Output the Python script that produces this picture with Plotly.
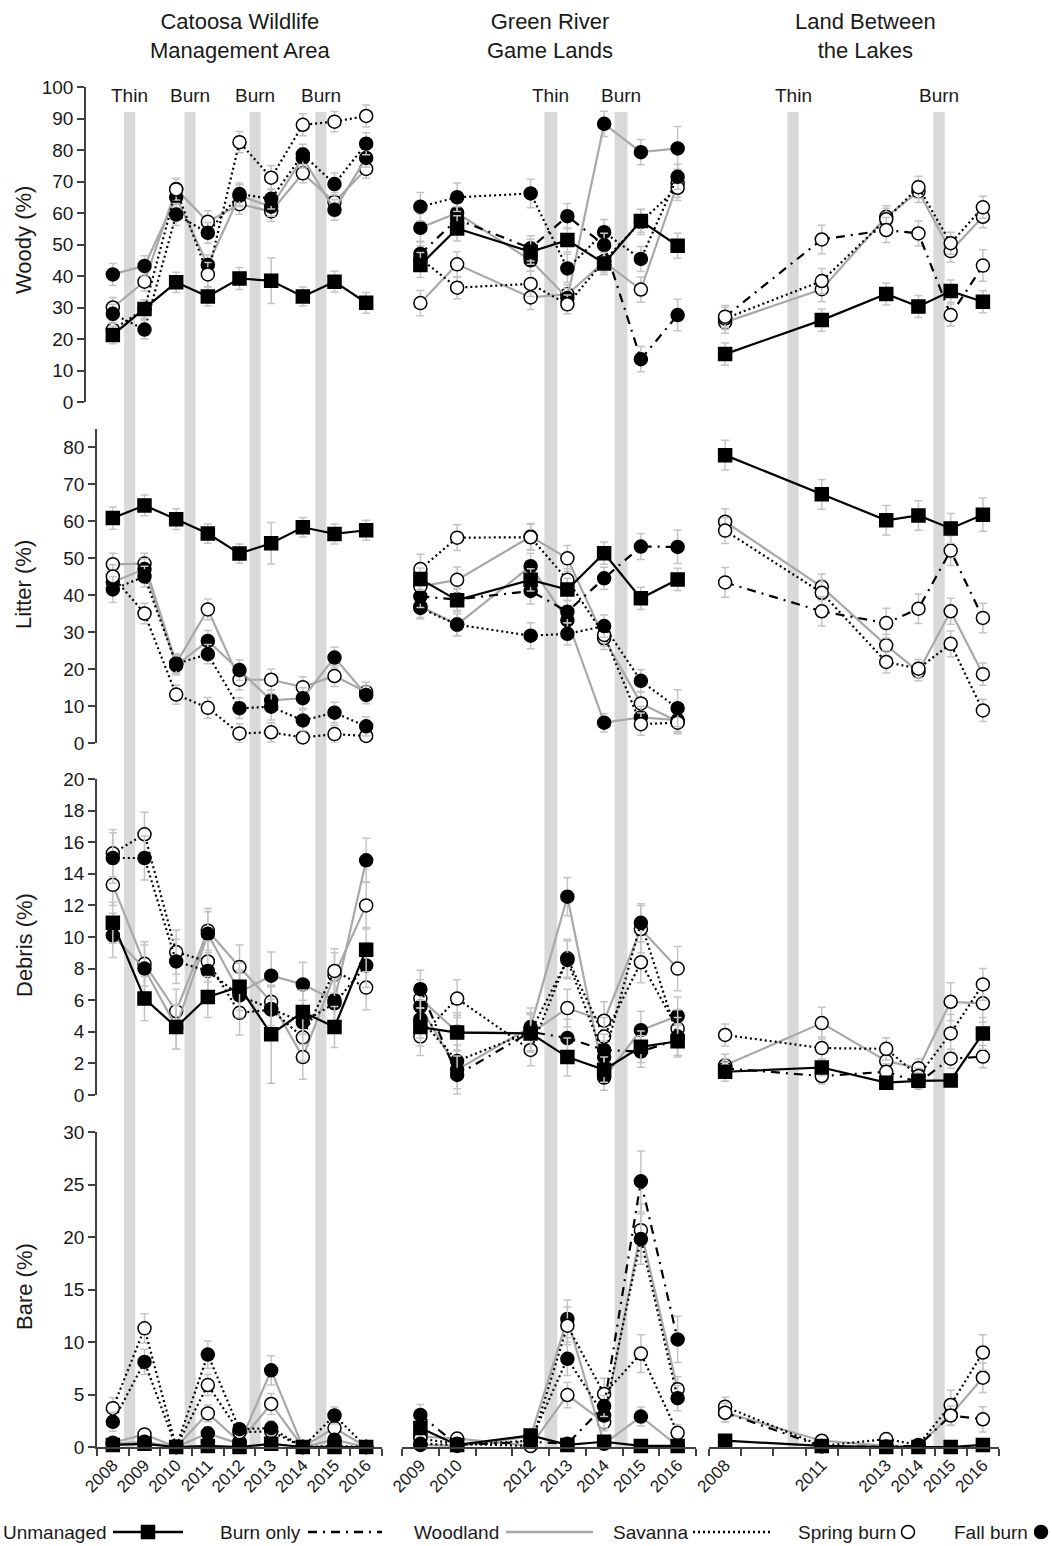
import plotly.graph_objects as go
from plotly.subplots import make_subplots

W, H = 1052, 1546

# ---------------- years ----------------
CAT_YEARS = [2008, 2009, 2010, 2011, 2012, 2013, 2014, 2015, 2016]
GR_YEARS = [2009, 2010, 2012, 2013, 2014, 2015, 2016]
LBL_YEARS = [2008, 2011, 2013, 2014, 2015, 2016]

SITES = ["Catoosa Wildlife<br>Management Area", "Green River<br>Game Lands", "Land Between<br>the Lakes"]
VARIABLES = ["Woody (%)", "Litter (%)", "Debris (%)", "Bare (%)"]

# treatment years (bands) and labels
CAT_EVENTS = [2008.53, 2010.44, 2012.49, 2014.57]
CAT_EVENT_LABELS = ["Thin", "Burn", "Burn", "Burn"]
GR_EVENTS = [2012.55, 2014.46]
GR_EVENT_LABELS = ["Thin", "Burn"]
LBL_EVENTS = [2010.11, 2014.64]
LBL_EVENT_LABELS = ["Thin", "Burn"]

# ---------------- Catoosa ----------------
CAT_WOODY_U = [21.3, 29.5, 38.0, 33.5, 39.2, 38.5, 33.5, 38.2, 31.5]
CAT_WOODY_WS = [30.0, 38.2, 67.6, 57.2, 62.8, 60.5, 72.6, 63.5, 74.0]
CAT_WOODY_WF = [40.5, 43.2, 65.0, 43.5, 65.5, 62.0, 77.5, 61.0, 77.5]
CAT_WOODY_SS = [23.0, 29.5, 67.5, 40.5, 82.5, 71.2, 88.0, 89.0, 90.8]
CAT_WOODY_SF = [28.0, 23.0, 59.5, 53.7, 66.0, 64.5, 78.6, 69.2, 82.0]
CAT_WOODY_U_ERR = [2.8, 3.0, 3.2, 3.0, 3.5, 7.2, 3.0, 3.3, 3.3]
CAT_WOODY_WS_ERR = [3.2, 3.0, 3.4, 3.5, 3.2, 3.2, 3.0, 3.0, 3.0]
CAT_WOODY_WF_ERR = [3.5, 3.2, 3.5, 3.2, 3.5, 3.0, 3.2, 3.3, 3.0]
CAT_WOODY_SS_ERR = [2.8, 3.0, 3.4, 3.8, 3.4, 3.8, 3.5, 3.2, 3.5]
CAT_WOODY_SF_ERR = [3.0, 3.0, 3.5, 3.3, 3.5, 3.2, 3.2, 3.5, 3.5]

CAT_LITTER_U = [60.8, 64.2, 60.5, 56.6, 51.2, 54.0, 58.3, 56.5, 57.5]
CAT_LITTER_WS = [48.3, 48.5, 21.5, 36.1, 17.1, 17.1, 15.1, 18.1, 13.8]
CAT_LITTER_WF = [43.5, 47.0, 21.0, 27.6, 19.7, 11.5, 12.1, 23.1, 13.0]
CAT_LITTER_SS = [45.0, 35.0, 13.1, 9.5, 2.6, 2.9, 1.5, 2.4, 1.9]
CAT_LITTER_SF = [41.5, 45.0, 21.4, 24.0, 9.4, 9.8, 6.1, 8.2, 4.5]
CAT_LITTER_U_ERR = [3.0, 2.8, 2.8, 2.6, 2.6, 5.6, 2.6, 2.7, 2.7]
CAT_LITTER_WS_ERR = [3.0, 2.8, 2.6, 2.8, 2.8, 2.8, 2.8, 2.8, 2.6]
CAT_LITTER_WF_ERR = [3.2, 2.8, 2.6, 2.8, 2.8, 2.8, 2.8, 2.8, 2.4]
CAT_LITTER_SS_ERR = [3.2, 2.8, 2.6, 2.8, 2.6, 2.6, 1.5, 2.4, 1.5]
CAT_LITTER_SF_ERR = [3.5, 2.8, 2.6, 2.6, 2.8, 3.6, 2.8, 2.8, 2.6]

CAT_DEBRIS_U = [10.9, 6.1, 4.3, 6.2, 6.85, 3.85, 5.25, 4.3, 9.2]
CAT_DEBRIS_WS = [13.3, 8.3, 5.3, 10.4, 8.1, 5.9, 2.4, 7.6, 12.0]
CAT_DEBRIS_WF = [10.1, 8.0, 4.3, 10.2, 6.5, 7.55, 7.0, 6.0, 14.85]
CAT_DEBRIS_SS = [15.3, 16.5, 9.05, 8.45, 5.2, 5.4, 3.65, 7.85, 6.8]
CAT_DEBRIS_SF = [15.0, 15.0, 8.45, 7.85, 6.3, 5.45, 4.6, 5.8, 8.2]
CAT_DEBRIS_U_ERR = [1.3, 1.4, 1.4, 1.3, 1.5, 3.1, 1.4, 1.3, 1.4]
CAT_DEBRIS_WS_ERR = [1.3, 1.4, 1.4, 1.4, 1.4, 1.5, 1.4, 1.4, 1.5]
CAT_DEBRIS_WF_ERR = [1.4, 1.5, 1.4, 1.4, 1.4, 1.5, 1.4, 1.4, 1.4]
CAT_DEBRIS_SS_ERR = [1.5, 1.4, 1.4, 1.3, 1.4, 1.5, 1.5, 1.4, 1.4]
CAT_DEBRIS_SF_ERR = [1.6, 1.4, 1.4, 1.3, 1.4, 1.4, 1.4, 1.4, 1.4]

CAT_BARE_U = [0.2, 0.3, 0.0, 0.1, 0.0, 0.3, 0.0, 0.0, 0.0]
CAT_BARE_WS = [0.4, 1.2, 0.0, 3.2, 0.5, 4.1, 0.0, 1.8, 0.0]
CAT_BARE_WF = [0.3, 0.5, 0.0, 1.3, 0.3, 7.3, 0.0, 0.7, 0.0]
CAT_BARE_SS = [3.7, 11.3, 0.0, 5.9, 1.4, 1.5, 0.0, 0.1, 0.0]
CAT_BARE_SF = [2.4, 8.1, 0.0, 8.8, 1.7, 1.8, 0.0, 3.0, 0.0]
CAT_BARE_U_ERR = [0.2, 0.2, 0.1, 0.1, 0.1, 0.2, 0.1, 0.1, 0.1]
CAT_BARE_WS_ERR = [0.3, 0.5, 0.1, 0.8, 0.4, 1.0, 0.1, 0.8, 0.1]
CAT_BARE_WF_ERR = [0.2, 0.4, 0.1, 0.6, 0.3, 1.4, 0.1, 0.5, 0.1]
CAT_BARE_SS_ERR = [1.0, 1.4, 0.1, 1.0, 0.5, 0.6, 0.1, 0.2, 0.1]
CAT_BARE_SF_ERR = [0.9, 1.2, 0.1, 1.3, 0.5, 0.7, 0.1, 0.8, 0.1]

# ---------------- Green River ----------------
GR_WOODY_U = [43.5, 55.1, 47.7, 51.4, 44.0, 57.5, 49.6]
GR_WOODY_BF = [47.0, 58.0, 48.8, 59.0, 49.8, 13.6, 27.6]
GR_WOODY_WS = [31.4, 43.7, 33.2, 34.2, 44.5, 35.7, 69.4]
GR_WOODY_WF = [55.3, 60.0, 45.0, 33.0, 88.3, 79.3, 80.5]
GR_WOODY_SS = [45.5, 36.3, 37.5, 31.0, 44.8, 57.2, 68.0]
GR_WOODY_SF = [62.0, 65.0, 66.2, 42.4, 53.9, 45.4, 71.5]
GR_WOODY_U_ERR = [4.0, 4.0, 4.0, 3.8, 3.5, 3.6, 4.0]
GR_WOODY_BF_ERR = [4.0, 4.0, 4.0, 4.0, 3.8, 4.0, 5.0]
GR_WOODY_WS_ERR = [4.0, 4.0, 3.8, 3.0, 4.0, 4.0, 4.5]
GR_WOODY_WF_ERR = [4.5, 4.0, 3.5, 3.0, 4.0, 4.0, 7.0]
GR_WOODY_SS_ERR = [4.0, 3.5, 4.0, 3.0, 3.5, 4.0, 4.0]
GR_WOODY_SF_ERR = [4.5, 4.5, 4.5, 4.5, 4.0, 4.0, 4.0]

GR_LITTER_U = [44.3, 38.6, 44.1, 41.5, 51.3, 39.1, 44.2]
GR_LITTER_BF = [39.6, 38.8, 41.1, 35.5, 44.5, 53.1, 53.0]
GR_LITTER_WS = [42.3, 44.1, 55.8, 49.9, 28.3, 10.7, 5.8]
GR_LITTER_WF = [36.9, 32.0, 47.8, 33.2, 5.5, 6.9, 6.2]
GR_LITTER_SS = [47.0, 55.5, 55.6, 44.1, 29.2, 5.1, 5.5]
GR_LITTER_SF = [36.5, 32.0, 29.0, 29.5, 31.6, 16.8, 9.4]
GR_LITTER_U_ERR = [3.0, 3.0, 3.0, 3.0, 3.0, 3.0, 3.0]
GR_LITTER_BF_ERR = [3.0, 3.0, 3.5, 3.0, 3.0, 3.5, 4.5]
GR_LITTER_WS_ERR = [3.5, 3.5, 3.5, 3.5, 3.0, 3.0, 3.0]
GR_LITTER_WF_ERR = [3.0, 3.0, 3.5, 3.0, 2.5, 3.0, 3.0]
GR_LITTER_SS_ERR = [4.0, 3.5, 3.5, 3.0, 3.0, 3.0, 3.0]
GR_LITTER_SF_ERR = [3.0, 3.0, 3.5, 3.0, 3.0, 3.0, 5.0]

GR_DEBRIS_U = [4.3, 3.95, 3.9, 2.4, 1.6, 3.05, 3.4]
GR_DEBRIS_BF = [6.7, 1.27, 4.0, 3.6, 2.85, 2.75, 3.5]
GR_DEBRIS_WS = [6.1, 4.0, 3.9, 5.5, 4.7, 10.5, 8.0]
GR_DEBRIS_WF = [5.6, 1.6, 4.3, 12.55, 1.1, 4.1, 5.0]
GR_DEBRIS_SS = [3.7, 6.1, 2.85, 8.65, 3.7, 8.4, 4.2]
GR_DEBRIS_SF = [4.8, 2.15, 4.0, 8.55, 2.4, 10.9, 3.7]
GR_DEBRIS_U_ERR = [1.2, 1.1, 1.2, 1.2, 0.8, 1.0, 1.0]
GR_DEBRIS_BF_ERR = [1.2, 1.2, 1.2, 1.2, 1.0, 1.0, 1.0]
GR_DEBRIS_WS_ERR = [1.2, 1.2, 1.2, 1.2, 1.2, 1.5, 1.4]
GR_DEBRIS_WF_ERR = [1.2, 1.2, 1.2, 1.2, 0.8, 1.2, 1.2]
GR_DEBRIS_SS_ERR = [1.2, 1.2, 1.0, 1.2, 1.2, 1.3, 1.2]
GR_DEBRIS_SF_ERR = [1.2, 1.0, 1.2, 1.2, 1.0, 1.2, 1.2]

GR_BARE_U = [1.8, 0.2, 1.1, 0.2, 0.5, 0.1, 0.1]
GR_BARE_BF = [3.05, 0.2, 0.5, 0.3, 3.9, 25.3, 10.25]
GR_BARE_WS = [1.0, 0.8, 0.1, 4.95, 2.35, 20.65, 5.5]
GR_BARE_WF = [0.2, 0.1, 1.0, 12.2, 0.3, 2.9, 0.1]
GR_BARE_SS = [0.8, 0.3, 0.1, 11.55, 5.05, 8.9, 1.35]
GR_BARE_SF = [0.3, 0.2, 0.6, 8.4, 3.0, 19.8, 4.65]
GR_BARE_U_ERR = [0.6, 0.2, 0.4, 0.2, 0.3, 0.1, 0.1]
GR_BARE_BF_ERR = [1.0, 0.2, 0.3, 0.2, 1.0, 2.9, 2.2]
GR_BARE_WS_ERR = [0.5, 0.5, 0.2, 1.2, 0.8, 2.5, 1.2]
GR_BARE_WF_ERR = [0.2, 0.2, 0.5, 1.8, 0.3, 0.9, 0.1]
GR_BARE_SS_ERR = [0.4, 0.3, 0.2, 1.8, 1.5, 1.8, 0.8]
GR_BARE_SF_ERR = [0.3, 0.2, 0.4, 1.6, 1.2, 2.4, 1.2]

# ---------------- Land Between the Lakes ----------------
LBL_WOODY_U = [15.2, 26.0, 34.3, 30.3, 35.2, 31.8]
LBL_WOODY_BS = [27.1, 51.6, 54.6, 53.5, 27.6, 43.3]
LBL_WOODY_WS = [25.3, 35.8, 58.8, 66.8, 47.9, 58.8]
LBL_WOODY_SS = [26.5, 38.4, 58.0, 68.2, 50.4, 61.8]
LBL_WOODY_U_ERR = [3.5, 3.5, 3.5, 3.5, 3.5, 3.5]
LBL_WOODY_BS_ERR = [3.5, 4.5, 4.0, 4.0, 3.5, 5.0]
LBL_WOODY_WS_ERR = [3.5, 4.0, 3.5, 3.5, 3.5, 3.5]
LBL_WOODY_SS_ERR = [3.5, 4.0, 3.5, 3.5, 3.5, 3.5]

LBL_LITTER_U = [77.8, 67.2, 60.2, 61.5, 58.0, 61.7]
LBL_LITTER_BS = [43.4, 35.6, 32.4, 36.3, 52.0, 33.8]
LBL_LITTER_WS = [59.8, 42.2, 26.4, 19.3, 35.6, 18.6]
LBL_LITTER_SS = [57.4, 40.6, 21.9, 20.1, 26.8, 8.8]
LBL_LITTER_U_ERR = [4.0, 4.0, 4.0, 4.0, 4.0, 4.5]
LBL_LITTER_BS_ERR = [4.0, 4.0, 4.0, 4.0, 4.0, 4.0]
LBL_LITTER_WS_ERR = [3.5, 3.5, 3.0, 2.5, 3.5, 3.0]
LBL_LITTER_SS_ERR = [3.5, 3.5, 3.0, 2.5, 3.5, 3.0]

LBL_DEBRIS_U = [1.47, 1.74, 0.78, 0.9, 0.92, 3.9]
LBL_DEBRIS_BS = [1.69, 1.2, 1.47, 0.8, 2.3, 2.43]
LBL_DEBRIS_WS = [1.88, 4.55, 2.15, 1.7, 5.9, 5.8]
LBL_DEBRIS_SS = [3.8, 2.97, 2.92, 1.2, 3.9, 7.0]
LBL_DEBRIS_U_ERR = [0.6, 0.5, 0.4, 0.5, 0.4, 1.0]
LBL_DEBRIS_BS_ERR = [0.6, 0.5, 0.5, 0.4, 0.6, 0.7]
LBL_DEBRIS_WS_ERR = [0.7, 1.0, 0.7, 0.6, 1.2, 1.2]
LBL_DEBRIS_SS_ERR = [0.7, 0.7, 0.7, 0.5, 1.2, 1.0]

LBL_BARE_U = [0.6, 0.1, 0.0, 0.0, 0.0, 0.2]
LBL_BARE_BS = [3.27, 0.05, 0.05, 0.1, 3.0, 2.64]
LBL_BARE_WS = [3.27, 0.6, 0.1, 0.1, 3.05, 6.6]
LBL_BARE_SS = [3.84, 0.1, 0.76, 0.2, 4.0, 9.0]
LBL_BARE_U_ERR = [0.3, 0.1, 0.1, 0.1, 0.1, 0.2]
LBL_BARE_BS_ERR = [0.9, 0.2, 0.2, 0.2, 0.9, 1.2]
LBL_BARE_WS_ERR = [0.9, 0.3, 0.3, 0.2, 1.0, 1.4]
LBL_BARE_SS_ERR = [0.9, 0.3, 0.4, 0.2, 1.4, 1.7]

# ---------------- styles ----------------
FONT = "Liberation Sans, Arial, sans-serif"
GRAY = "#a8a8a8"
ERRC = "#c4c4c4"
AXC = "#404040"
DASHDOT = "9px,6px,2px,6px"
DOT = "2px,3px"

STYLE = {
    "U": dict(color="black", dash="solid", symbol="square", fill="black"),
    "BS": dict(color="black", dash=DASHDOT, symbol="circle", fill="white"),
    "BF": dict(color="black", dash=DASHDOT, symbol="circle", fill="black"),
    "WS": dict(color=GRAY, dash="solid", symbol="circle", fill="white"),
    "WF": dict(color=GRAY, dash="solid", symbol="circle", fill="black"),
    "SS": dict(color="black", dash=DOT, symbol="circle", fill="white"),
    "SF": dict(color="black", dash=DOT, symbol="circle", fill="black"),
}
NAMES = {"U": "Unmanaged", "BS": "Burn only, spring", "BF": "Burn only, fall",
         "WS": "Woodland, spring", "WF": "Woodland, fall",
         "SS": "Savanna, spring", "SF": "Savanna, fall"}

PANELS = [
    (1, 1, CAT_YEARS, [("WS", CAT_WOODY_WS, CAT_WOODY_WS_ERR), ("WF", CAT_WOODY_WF, CAT_WOODY_WF_ERR),
                       ("SS", CAT_WOODY_SS, CAT_WOODY_SS_ERR), ("SF", CAT_WOODY_SF, CAT_WOODY_SF_ERR),
                       ("U", CAT_WOODY_U, CAT_WOODY_U_ERR)]),
    (2, 1, CAT_YEARS, [("WS", CAT_LITTER_WS, CAT_LITTER_WS_ERR), ("WF", CAT_LITTER_WF, CAT_LITTER_WF_ERR),
                       ("SS", CAT_LITTER_SS, CAT_LITTER_SS_ERR), ("SF", CAT_LITTER_SF, CAT_LITTER_SF_ERR),
                       ("U", CAT_LITTER_U, CAT_LITTER_U_ERR)]),
    (3, 1, CAT_YEARS, [("WS", CAT_DEBRIS_WS, CAT_DEBRIS_WS_ERR), ("WF", CAT_DEBRIS_WF, CAT_DEBRIS_WF_ERR),
                       ("SS", CAT_DEBRIS_SS, CAT_DEBRIS_SS_ERR), ("SF", CAT_DEBRIS_SF, CAT_DEBRIS_SF_ERR),
                       ("U", CAT_DEBRIS_U, CAT_DEBRIS_U_ERR)]),
    (4, 1, CAT_YEARS, [("WS", CAT_BARE_WS, CAT_BARE_WS_ERR), ("WF", CAT_BARE_WF, CAT_BARE_WF_ERR),
                       ("SS", CAT_BARE_SS, CAT_BARE_SS_ERR), ("SF", CAT_BARE_SF, CAT_BARE_SF_ERR),
                       ("U", CAT_BARE_U, CAT_BARE_U_ERR)]),
    (1, 2, GR_YEARS, [("WS", GR_WOODY_WS, GR_WOODY_WS_ERR), ("WF", GR_WOODY_WF, GR_WOODY_WF_ERR),
                      ("SS", GR_WOODY_SS, GR_WOODY_SS_ERR), ("SF", GR_WOODY_SF, GR_WOODY_SF_ERR),
                      ("BF", GR_WOODY_BF, GR_WOODY_BF_ERR), ("U", GR_WOODY_U, GR_WOODY_U_ERR)]),
    (2, 2, GR_YEARS, [("WS", GR_LITTER_WS, GR_LITTER_WS_ERR), ("WF", GR_LITTER_WF, GR_LITTER_WF_ERR),
                      ("SS", GR_LITTER_SS, GR_LITTER_SS_ERR), ("SF", GR_LITTER_SF, GR_LITTER_SF_ERR),
                      ("BF", GR_LITTER_BF, GR_LITTER_BF_ERR), ("U", GR_LITTER_U, GR_LITTER_U_ERR)]),
    (3, 2, GR_YEARS, [("WS", GR_DEBRIS_WS, GR_DEBRIS_WS_ERR), ("WF", GR_DEBRIS_WF, GR_DEBRIS_WF_ERR),
                      ("SS", GR_DEBRIS_SS, GR_DEBRIS_SS_ERR), ("SF", GR_DEBRIS_SF, GR_DEBRIS_SF_ERR),
                      ("BF", GR_DEBRIS_BF, GR_DEBRIS_BF_ERR), ("U", GR_DEBRIS_U, GR_DEBRIS_U_ERR)]),
    (4, 2, GR_YEARS, [("WS", GR_BARE_WS, GR_BARE_WS_ERR), ("WF", GR_BARE_WF, GR_BARE_WF_ERR),
                      ("SS", GR_BARE_SS, GR_BARE_SS_ERR), ("SF", GR_BARE_SF, GR_BARE_SF_ERR),
                      ("BF", GR_BARE_BF, GR_BARE_BF_ERR), ("U", GR_BARE_U, GR_BARE_U_ERR)]),
    (1, 3, LBL_YEARS, [("WS", LBL_WOODY_WS, LBL_WOODY_WS_ERR), ("SS", LBL_WOODY_SS, LBL_WOODY_SS_ERR),
                       ("BS", LBL_WOODY_BS, LBL_WOODY_BS_ERR), ("U", LBL_WOODY_U, LBL_WOODY_U_ERR)]),
    (2, 3, LBL_YEARS, [("WS", LBL_LITTER_WS, LBL_LITTER_WS_ERR), ("SS", LBL_LITTER_SS, LBL_LITTER_SS_ERR),
                       ("BS", LBL_LITTER_BS, LBL_LITTER_BS_ERR), ("U", LBL_LITTER_U, LBL_LITTER_U_ERR)]),
    (3, 3, LBL_YEARS, [("WS", LBL_DEBRIS_WS, LBL_DEBRIS_WS_ERR), ("SS", LBL_DEBRIS_SS, LBL_DEBRIS_SS_ERR),
                       ("BS", LBL_DEBRIS_BS, LBL_DEBRIS_BS_ERR), ("U", LBL_DEBRIS_U, LBL_DEBRIS_U_ERR)]),
    (4, 3, LBL_YEARS, [("WS", LBL_BARE_WS, LBL_BARE_WS_ERR), ("SS", LBL_BARE_SS, LBL_BARE_SS_ERR),
                       ("BS", LBL_BARE_BS, LBL_BARE_BS_ERR), ("U", LBL_BARE_U, LBL_BARE_U_ERR)]),
]

# ---------------- layout geometry (pixels) ----------------
COL_X = {1: (97, 382), 2: (402, 696), 3: (709, 999)}
COL_RANGE = {1: (2007.5, 2016.5), 2: (2008.5, 2016.5), 3: (2007.5, 2016.5)}
ROW_Y = {1: (402, 87), 2: (743, 428.5), 3: (1095, 779), 4: (1447, 1132)}
ROW_RANGE = {1: (0, 100), 2: (0, 85), 3: (0, 20), 4: (0, 30)}
ROW_TICKS = {1: list(range(0, 101, 10)), 2: list(range(0, 81, 10)),
             3: list(range(0, 21, 2)), 4: list(range(0, 31, 5))}
COL_YEARS = {1: CAT_YEARS, 2: GR_YEARS, 3: LBL_YEARS}
COL_EVENTS = {1: (CAT_EVENTS, CAT_EVENT_LABELS), 2: (GR_EVENTS, GR_EVENT_LABELS),
              3: (LBL_EVENTS, LBL_EVENT_LABELS)}


def px_x(p):
    return p / W


def px_y(p):
    return 1 - p / H


fig = make_subplots(rows=4, cols=3)

for (r, c, years, series) in PANELS:
    for key, vals, errs in series:
        st = STYLE[key]
        fig.add_trace(go.Scatter(
            x=years, y=vals, mode="lines+markers", name=NAMES[key], showlegend=False,
            line=dict(color=st["color"], width=2.2, dash=st["dash"]),
            marker=dict(symbol=st["symbol"], size=13, color=st["fill"],
                        line=dict(color="black", width=1.5)),
            error_y=dict(type="data", array=errs, visible=True, color=ERRC, thickness=1.5, width=4),
            cliponaxis=False,
        ), row=r, col=c)

for r in range(1, 5):
    for c in range(1, 4):
        idx = (r - 1) * 3 + c
        xa = "xaxis" if idx == 1 else f"xaxis{idx}"
        ya = "yaxis" if idx == 1 else f"yaxis{idx}"
        x0, x1 = COL_X[c]
        xr0, xr1 = COL_RANGE[c]
        minor_vals = [xr0 + i for i in range(int(round(xr1 - xr0)) + 1)]
        if c == 1 and r == 1:
            # woody y-axis sits a bit further left
            scale = (x1 - x0) / (xr1 - xr0)
            xr0 = xr0 - 11 / scale
            x0 = x0 - 11
        xaxis = dict(domain=[px_x(x0), px_x(x1)], range=[xr0, xr1], showgrid=False, zeroline=False,
                     fixedrange=True, automargin=False)
        if r == 4:
            yrs = COL_YEARS[c]
            xaxis.update(visible=True, showline=True, linecolor=AXC, linewidth=1.5,
                         tickmode="array", tickvals=yrs, ticktext=[str(y) for y in yrs],
                         ticks="", tickangle=-45, tickfont=dict(family=FONT, size=17, color="#1a1a1a"),
                         minor=dict(tickmode="array", tickvals=minor_vals,
                                    ticks="outside", ticklen=7, tickwidth=1.5, tickcolor=AXC,
                                    showgrid=False))
        else:
            xaxis.update(visible=False)
        y0, y1 = ROW_Y[r]
        yaxis = dict(domain=[px_y(y0), px_y(y1)], range=list(ROW_RANGE[r]), showgrid=False,
                     zeroline=False, fixedrange=True, automargin=False)
        if c == 1:
            yaxis.update(visible=True, showline=True, linecolor=AXC, linewidth=1.5,
                         tickmode="array", tickvals=ROW_TICKS[r], ticks="outside", ticklen=7,
                         tickwidth=1.5, tickcolor=AXC,
                         tickfont=dict(family=FONT, size=19, color="#1a1a1a"))
        else:
            yaxis.update(visible=False)
        fig.layout[xa].update(xaxis)
        fig.layout[ya].update(yaxis)

shapes = []
annotations = []

# treatment bands spanning all rows
for c in range(1, 4):
    xref = f"x{9 + c}"
    evs, labs = COL_EVENTS[c]
    for ev, lab in zip(evs, labs):
        shapes.append(dict(type="rect", xref=xref, yref="paper", x0=ev - 0.175, x1=ev + 0.175,
                           y0=px_y(1447), y1=px_y(112), fillcolor="#d9d9d9", line=dict(width=0),
                           layer="below"))
        annotations.append(dict(text=lab, xref=xref, yref="paper", x=ev, y=px_y(95),
                                showarrow=False, xanchor="center", yanchor="middle",
                                font=dict(family=FONT, size=19, color="#1a1a1a")))

# column titles
for cx, title in zip([240, 550, 865], SITES):
    annotations.append(dict(text=title, xref="paper", yref="paper", x=px_x(cx), y=px_y(36),
                            showarrow=False, xanchor="center", yanchor="middle",
                            font=dict(family=FONT, size=22, color="#1a1a1a")))

# y-axis titles
for cy, title in zip([240, 585, 945, 1287], VARIABLES):
    annotations.append(dict(text=title, xref="paper", yref="paper", x=px_x(24), y=px_y(cy),
                            showarrow=False, textangle=-90, xanchor="center", yanchor="middle",
                            font=dict(family=FONT, size=22, color="#1a1a1a")))

# legend (drawn as keys)
LY = 1532
yc = px_y(LY)
legend_items = [
    ("Unmanaged", 109, ("line", 113, 183, "black", "solid"), ("square", 148, "black")),
    ("Burn only", 303, ("line", 308, 382, "black", DASHDOT), None),
    ("Woodland", 501, ("line", 506, 593, GRAY, "solid"), None),
    ("Savanna", 690, ("line", 693, 773, "black", DOT), None),
    ("Spring burn", 898, None, ("circle", 908, "white")),
    ("Fall burn", 1030, None, ("circle", 1041, "black")),
]
for text, xr, ln, mk in legend_items:
    annotations.append(dict(text=text, xref="paper", yref="paper", x=px_x(xr), y=yc,
                            showarrow=False, xanchor="right", yanchor="middle",
                            font=dict(family=FONT, size=19, color="#1a1a1a")))
    if ln:
        _, a, b, col, dash = ln
        shapes.append(dict(type="line", xref="paper", yref="paper", x0=px_x(a), x1=px_x(b),
                           y0=yc, y1=yc, line=dict(color=col, width=2.5, dash=dash)))
    if mk:
        kind, mx, fill = mk
        half = 6.5
        shapes.append(dict(type="rect" if kind == "square" else "circle", xref="paper", yref="paper",
                           x0=px_x(mx - half), x1=px_x(mx + half),
                           y0=yc - half / H, y1=yc + half / H,
                           fillcolor=fill, line=dict(color="black", width=1.5)))

fig.update_layout(template="none", width=W, height=H, autosize=False,
                  margin=dict(l=0, r=0, t=0, b=0, pad=0),
                  paper_bgcolor="white", plot_bgcolor="white", showlegend=False,
                  shapes=shapes, annotations=annotations, font=dict(family=FONT))

fig.write_html("out.html", config={"displayModeBar": False},
               post_script="document.body.style.margin='0';document.body.style.padding='0';"
                           "document.body.style.overflow='hidden';"
                           "document.documentElement.style.overflow='hidden';")
